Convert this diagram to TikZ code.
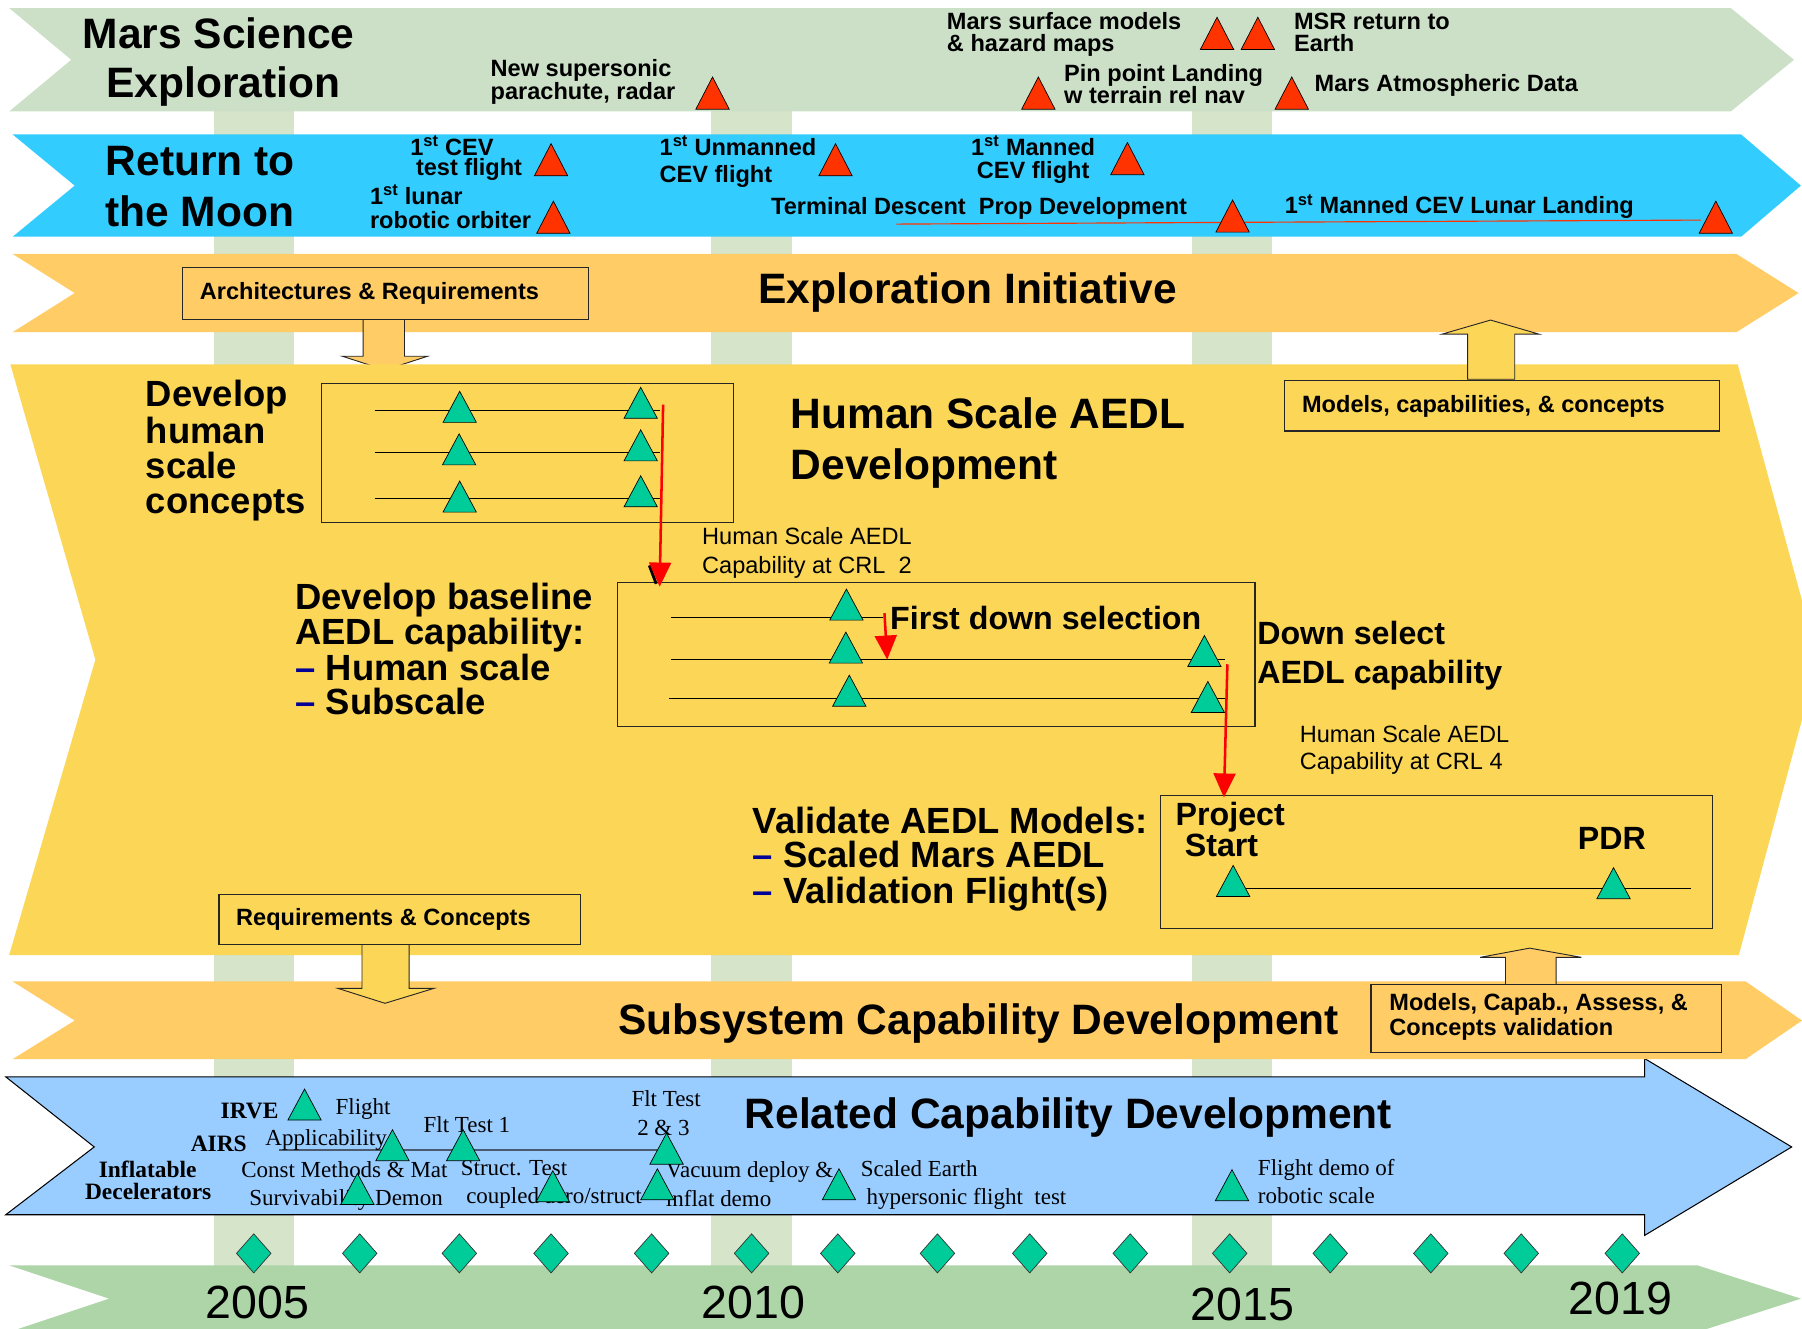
\documentclass[tikz,border=0pt]{standalone}
\usepackage{fontspec}
\setmainfont{Liberation Sans}
\newfontfamily\tnr{Liberation Serif}
\usetikzlibrary{arrows.meta}
\definecolor{mgreen}{HTML}{CCE0C8}
\definecolor{stripec}{HTML}{D6E4CA}
\definecolor{cyanb}{HTML}{33CCFF}
\definecolor{orangeb}{HTML}{FFCC66}
\definecolor{yellowb}{HTML}{FCD757}
\definecolor{lblue}{HTML}{99CCFF}
\definecolor{tgreen}{HTML}{ADD5A7}
\definecolor{tealt}{HTML}{00CC99}
\definecolor{redt}{HTML}{FF3300}
\definecolor{navyd}{HTML}{000099}
\definecolor{slatel}{HTML}{4A5A70}
\newcommand\fBig{\fontsize{37}{43}\selectfont\bfseries}
\newcommand\fMid{\fontsize{31.7}{31}\selectfont\bfseries}
\newcommand\fMed{\fontsize{28}{32}\selectfont\bfseries}
\newcommand\fSm{\fontsize{20.5}{24}\selectfont\bfseries}
\newcommand\fReg{\fontsize{20.5}{24}\selectfont}
\newcommand\fTm{\tnr\fontsize{20}{24}\selectfont}
\newcommand\fTmB{\tnr\fontsize{20.4}{24}\selectfont\bfseries}
\newcommand\fYear{\fontsize{40.5}{46}\selectfont}
\newcommand\nd{{\color{navyd}--}\ }
% triangle: style, cx, base y, width, height
\newcommand\mtri[5]{\draw[#1] ({#2-#4/2},#3) -- ({#2+#4/2},#3) -- (#2,{#3-#5}) -- cycle;}
\newcommand\mdia[2]{\draw[diam] (#1,{#2-17}) -- ({#1+15},#2) -- (#1,{#2+17}) -- ({#1-15},#2) -- cycle;}
\begin{document}
\begin{tikzpicture}[x=1pt,y=-1pt,
  lbl/.style={anchor=base west,inner sep=0pt,outer sep=0pt},
  rtri/.style={fill=redt,draw=black,line width=0.6pt},
  gtri/.style={fill=tealt,draw=black,line width=0.6pt},
  diam/.style={fill=tealt,draw=black!80,line width=0.6pt},
  boxl/.style={draw=black!85,line width=1pt},
  tline/.style={draw=black,line width=0.9pt},
  redarrow/.style={draw=red,line width=2.2pt,-{Triangle[width=19pt,length=21pt]},fill=red},
  blockar/.style={draw=black!85,line width=0.8pt}]
\useasboundingbox (0,0) rectangle (1568,1156);
\clip (0,0) rectangle (1568,1156);
\fill[white] (0,0) rectangle (1568,1156);
% year stripes
\fill[stripec] (186,97) rectangle (256,1102);
\fill[stripec] (619,97) rectangle (689,1102);
\fill[stripec] (1037,97) rectangle (1107,1102);
% band 1 Mars
\fill[mgreen] (8,7) -- (1506,7) -- (1561,52) -- (1506,97) -- (8,97) -- (62,52) -- cycle;
% band 2 Moon
\fill[cyanb] (11,117) -- (1515,117) -- (1567,161.5) -- (1515,206) -- (11,206) -- (65,161.5) -- cycle;
% band 3 Exploration initiative
\fill[orangeb] (11,221) -- (1511,221) -- (1565,255) -- (1511,289) -- (11,289) -- (65,255) -- cycle;
\draw[blockar,fill=orangeb] (316,277) -- (352,277) -- (352,310) -- (372,310) -- (335,322) -- (298,310) -- (316,310) -- cycle;
\draw[boxl,fill=orangeb] (159,233) rectangle (512,278);
% band 4 Human scale AEDL
\fill[yellowb] (9,317) -- (1512,317) -- (1582,574) -- (1513,831) -- (8,831) -- (83,574) -- cycle;
\draw[blockar,fill=yellowb] (1277,330) -- (1277,290.7) -- (1255,290.7) -- (1297,278.5) -- (1339,290.7) -- (1318,290.7) -- (1318,330) -- cycle;
\draw[boxl,fill=yellowb] (1118,331) rectangle (1496,375);
% band 6 related capability
\draw[fill=lblue,draw=black,line width=0.9pt] (5,937) -- (1431,937) -- (1431,921) -- (1559,998) -- (1431,1075) -- (1431,1057) -- (5,1057) -- (82,998) -- cycle;
% band 5 subsystem
\fill[orangeb] (11,854) -- (1519,854) -- (1568,888) -- (1519,921.6) -- (11,921.6) -- (65,888) -- cycle;
\draw[blockar,fill=yellowb] (315,821.6) -- (356,821.6) -- (356,860) -- (377.6,860) -- (335,873) -- (294,860) -- (315,860) -- cycle;
\draw[boxl,fill=yellowb] (190.5,778) rectangle (505,821.6);
\draw[blockar,fill=orangeb] (1310,857) -- (1310,833) -- (1288,833) -- (1331,825) -- (1376,833) -- (1354,833) -- (1354,857) -- cycle;
\draw[boxl,fill=orangeb] (1193,857) rectangle (1498,916);
% band 7 timeline
\fill[tgreen] (8,1101) -- (1477,1101) -- (1567,1130) -- (1477,1159) -- (8,1159) -- (95,1130) -- cycle;

% ---- band 1 texts
\node[lbl,font=\fBig] (ms1) at (72,42) {Mars Science};
\node[lbl,font=\fBig] (ms2) at (92.5,85) {Exploration};
\node[lbl,font=\fSm] (ns1) at (427,67) {New supersonic};
\node[lbl,font=\fSm] (ns2) at (427,87) {parachute, radar};
\node[lbl,font=\fSm] (sm1) at (824,26) {Mars surface models};
\node[lbl,font=\fSm] (sm2) at (824,45) {\& hazard maps};
\node[lbl,font=\fSm] (msr1) at (1126,26) {MSR return to};
\node[lbl,font=\fSm] (msr2) at (1126,45) {Earth};
\node[lbl,font=\fSm] (pp1) at (926,71) {Pin point Landing};
\node[lbl,font=\fSm] (pp2) at (926,90) {w terrain rel nav};
\node[lbl,font=\fSm] (mad) at (1144,80) {Mars Atmospheric Data};
\mtri{rtri}{620}{95}{29}{28}
\mtri{rtri}{1059}{43}{29}{28}
\mtri{rtri}{1094.5}{43}{29}{28}
\mtri{rtri}{903.5}{95}{29}{28}
\mtri{rtri}{1124}{95}{29}{28}

% ---- band 2 texts
\node[lbl,font=\fBig] (rm1) at (92,153) {Return to};
\node[lbl,font=\fBig] (rm2) at (91.5,197.5) {the Moon};
\node[lbl,font=\fSm] (cev1) at (357,135) {1\textsuperscript{st} CEV};
\node[lbl,font=\fSm] (cev2) at (362,153) {test flight};
\node[lbl,font=\fSm] (lro1) at (322,178) {1\textsuperscript{st} lunar};
\node[lbl,font=\fSm] (lro2) at (322,199) {robotic orbiter};
\node[lbl,font=\fSm] (uc1) at (574,135) {1\textsuperscript{st} Unmanned};
\node[lbl,font=\fSm] (uc2) at (574,159) {CEV flight};
\node[lbl,font=\fSm] (mc1) at (845,135) {1\textsuperscript{st} Manned};
\node[lbl,font=\fSm] (mc2) at (850,155) {CEV flight};
\node[lbl,font=\fSm] (tdp) at (671,187) {Terminal Descent~~Prop Development};
\node[lbl,font=\fSm] (mll) at (1118,186) {1\textsuperscript{st} Manned CEV Lunar Landing};
\coordinate (rl1) at (780,195);
\coordinate (rl2) at (1072,193.5);
\coordinate (rl3) at (1480,191.5);
\draw[redt,line width=1pt] (rl1) -- (rl2) -- (rl3);
\mtri{rtri}{479.5}{153}{29}{28}
\mtri{rtri}{481.5}{203}{29}{28}
\mtri{rtri}{727}{153}{29}{28}
\mtri{rtri}{981}{152}{29}{28}
\mtri{rtri}{1072.5}{202}{29}{28}
\mtri{rtri}{1493}{203}{29}{28}

% ---- band 3 texts
\node[lbl,font=\fSm] (arq) at (174,261) {Architectures \& Requirements};
\node[lbl,font=\fBig] (ei) at (660,264) {Exploration Initiative};

% ---- band 4
\node[lbl,font=\fSm] (mcc) at (1133,358.5) {Models, capabilities, \& concepts};
\node[lbl,font=\fMid] (dh1) at (127,354) {Develop};
\node[lbl,font=\fMid] (dh2) at (127,385.5) {human};
\node[lbl,font=\fMid] (dh3) at (127,416) {scale};
\node[lbl,font=\fMid] (dh4) at (127,446.6) {concepts};
\node[lbl,font=\fBig] (hs1) at (688,372.5) {Human Scale AEDL};
\node[lbl,font=\fBig] (hs2) at (688,417) {Development};
\draw[boxl] (280,334) rectangle (638,455);
\draw[tline] (326,357) -- (574,357);
\draw[tline] (326,394) -- (574,394);
\draw[tline] (326,434) -- (574,434);
\mtri{gtri}{400}{367.5}{29}{27}
\mtri{gtri}{557.5}{364}{29}{27}
\mtri{gtri}{399.5}{404.5}{29}{27}
\mtri{gtri}{557.5}{401}{29}{27}
\mtri{gtri}{400}{445.6}{29}{27}
\mtri{gtri}{557.5}{441}{29}{27}
\node[lbl,font=\fReg] (c2a) at (611,474) {Human Scale AEDL};
\node[lbl,font=\fReg] (c2b) at (611,498.6) {Capability at CRL~~2};

\node[lbl,font=\fMid] (db1) at (257,530) {Develop baseline};
\node[lbl,font=\fMid] (db2) at (257,560.5) {AEDL capability:};
\node[lbl,font=\fMid] (db3) at (257,591.7) {\nd Human scale};
\node[lbl,font=\fMid] (db4) at (257,622) {\nd Subscale};
\draw[boxl] (537,506.5) rectangle (1092,632);
\draw[tline] (584,537) -- (768,537);
\draw[tline] (584,573.5) -- (1066,573.5);
\draw[tline] (582,607.6) -- (1066,607.6);
\mtri{gtri}{736.5}{539.6}{29}{27}
\mtri{gtri}{736}{577}{29}{27}
\mtri{gtri}{739}{614.5}{29}{27}
\mtri{gtri}{1048}{580}{29}{27}
\mtri{gtri}{1051}{620}{29}{27}
\node[lbl,font=\fMed] (fds) at (774.6,547.5) {First down selection};
\node[lbl,font=\fMed] (dsa1) at (1094,561) {Down select};
\node[lbl,font=\fMed] (dsa2) at (1094,595) {AEDL capability};
\node[lbl,font=\fReg] (c4a) at (1131,646) {Human Scale AEDL};
\node[lbl,font=\fReg] (c4b) at (1131,670) {Capability at CRL 4};

\node[lbl,font=\fMid] (va1) at (655,725) {Validate AEDL Models:};
\node[lbl,font=\fMid] (va2) at (655,755) {\nd Scaled Mars AEDL};
\node[lbl,font=\fMid] (va3) at (655,786) {\nd Validation Flight(s)};
\draw[boxl] (1010,692.4) rectangle (1490,807.7);
\node[lbl,font=\fMed] (ps1) at (1023,718.5) {Project};
\node[lbl,font=\fMed] (ps2) at (1031,745) {Start};
\node[lbl,font=\fMed] (pdr) at (1373,739) {PDR};
\draw[tline] (1073,773) -- (1471,773);
\mtri{gtri}{1073}{780}{29}{27}
\mtri{gtri}{1404}{782}{29}{27}
\node[lbl,font=\fSm] (rqc) at (205.5,805) {Requirements \& Concepts};

% red arrows
\coordinate (a1s) at (577,352);
\coordinate (a1e) at (574,510.5);
\coordinate (a2s) at (769.6,533.6);
\coordinate (a2e) at (772,574);
\coordinate (a3s) at (1068,578);
\coordinate (a3e) at (1065,694);
\draw[black,line width=2.5pt] (565,492) -- (571,508);
\draw[redarrow] (a1s) -- (a1e);
\draw[redarrow] (a2s) -- (a2e);
\draw[redarrow] (a3s) -- (a3e);

% ---- band 5
\node[lbl,font=\fBig] (scd) at (538,900) {Subsystem Capability Development};
\node[lbl,font=\fSm] (mca1) at (1209,879) {Models, Capab., Assess, \&};
\node[lbl,font=\fSm] (mca2) at (1209,900.7) {Concepts validation};

% ---- band 6
\draw[slatel,line width=1.5pt] (243,1000.7) -- (573.5,1000.7);
\node[lbl,font=\fBig] (rcd) at (648,981.6) {Related Capability Development};
\node[lbl,font=\fTmB] (irve) at (192,973) {IRVE};
\node[lbl,font=\fTm] (fa1) at (292,970) {Flight};
\node[lbl,font=\fTm] (fa2) at (231,996.5) {Applicability};
\node[lbl,font=\fTmB] (airs) at (166,1002) {AIRS};
\node[lbl,font=\fTm] (ft1) at (368.6,985) {Flt Test 1};
\node[lbl,font=\fTm] (ft2) at (549.5,963) {Flt Test};
\node[lbl,font=\fTm] (ft3) at (554.5,987.7) {2 \& 3};
\node[lbl,font=\fTmB] (inf1) at (86,1024.5) {Inflatable};
\node[lbl,font=\fTmB] (inf2) at (74,1044) {Decelerators};
\node[lbl,font=\fTm] (cm1) at (210,1024.5) {Const Methods \& Mat};
\node[lbl,font=\fTm] (cm2) at (217,1048.6) {Survivability Demon};
\node[lbl,font=\fTm] (st1) at (401,1022.5) {Struct. Test};
\node[lbl,font=\fTm] (st2) at (405.7,1047) {coupled aero/struct};
\node[lbl,font=\fTm] (vd1) at (579.5,1025) {Vacuum deploy \&};
\node[lbl,font=\fTm] (vd2) at (579.5,1050) {inflat demo};
\node[lbl,font=\fTm] (se1) at (749,1024) {Scaled Earth};
\node[lbl,font=\fTm] (se2) at (754,1048) {hypersonic flight~~test};
\node[lbl,font=\fTm] (fd1) at (1094.6,1022.5) {Flight demo of};
\node[lbl,font=\fTm] (fd2) at (1094.6,1047) {robotic scale};
\mtri{gtri}{265}{974.6}{29}{27}
\mtri{gtri}{341.5}{1010}{29}{27}
\mtri{gtri}{403}{1010}{29}{27}
\mtri{gtri}{580}{1013}{29}{27}
\mtri{gtri}{311}{1048}{29}{27}
\mtri{gtri}{481}{1045.7}{29}{27}
\mtri{gtri}{572}{1044}{29}{27}
\mtri{gtri}{730}{1044}{29}{27}
\mtri{gtri}{1072}{1044.8}{29}{27}

% ---- diamonds & years
\foreach \dx in {220.8,313,399.7,479.5,567,654,729,815.7,896,983.5,1070,1157.5,1245,1323.7,1411.6} {\mdia{\dx}{1090.6}}
\node[lbl,font=\fYear] (y05) at (179,1147) {2005};
\node[lbl,font=\fYear] (y10) at (610.5,1147) {2010};
\node[lbl,font=\fYear] (y15) at (1036,1149) {2015};
\node[lbl,font=\fYear] (y19) at (1365,1144) {2019};
\end{tikzpicture}
\end{document}
